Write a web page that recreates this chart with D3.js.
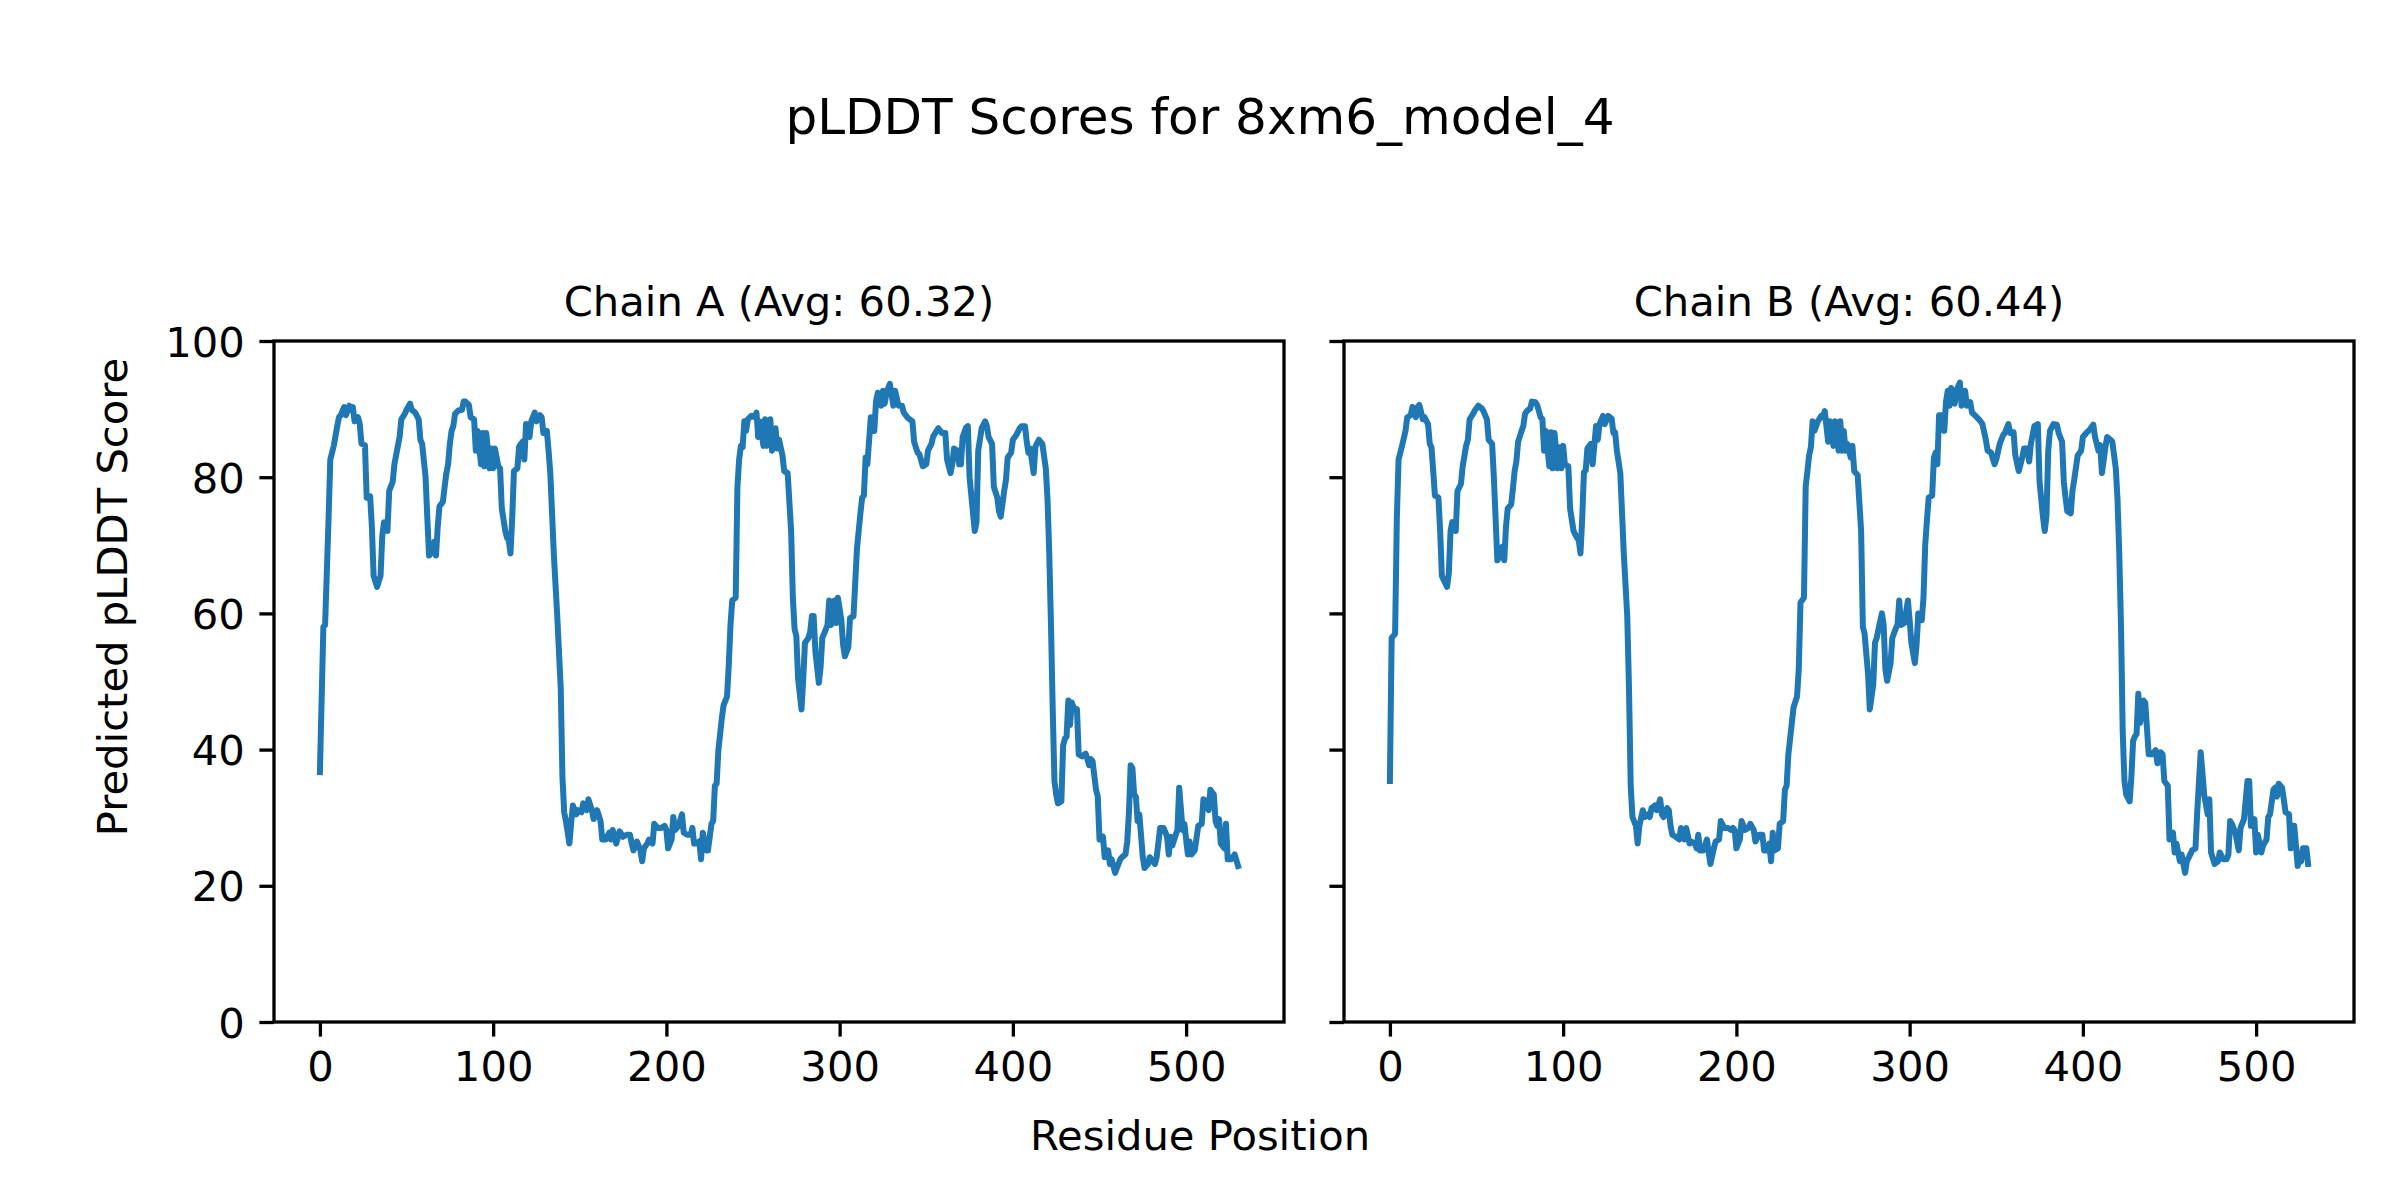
<!DOCTYPE html>
<html lang="en">
  <head>
    <meta charset="UTF-8" />
    <script src="https://d3js.org/d3.v7.min.js"></script>
    <style>
      body {
        margin: 0;
        background: #ffffff;
      }
      text {
        font-family: "DejaVu Sans", sans-serif;
        fill: #000000;
      }
    </style>
    <title>pLDDT Scores</title>
  </head>
  <body>
    <div id="chart"></div>

    <script>
      // ---- data: [residue index, pLDDT] ----
      var chainA = [
        [0,36.7],[2,58],[3,58.3],[5,74],[6,82.6],[8,84.6],[10,87.5],[11,88.8],[12,89.1],[14,90.3],
        [15,89.1],[17,90.5],[18,89.9],[19,90.3],[20,88.2],[22,88.8],[23,87.8],[24,84.9],[26,84.7],[27,77],
        [29,77.2],[30,72.7],[31,65.5],[33,63.9],[35,65.5],[36,71.4],[37,73.4],[39,72.1],[40,78],[42,79.3],
        [43,81.9],[45,84.6],[46,85.9],[47,88.5],[49,89.3],[50,89.9],[52,90.8],[53,89.9],[55,89.5],[57,88.5],
        [58,85.5],[59,84.9],[61,80],[62,74],[63,68.5],[64,68.8],[66,70.5],[67,68.5],[68,72.7],[69,75.7],
        [71,76.4],[72,78.6],[73,80.6],[74,81.9],[75,84.9],[76,86.8],[77,87.5],[78,89.3],[80,89.8],[82,89.9],
        [83,91.1],[84,91.1],[86,90.6],[87,88.8],[89,88.5],[90,83.9],[91,86.8],[93,81.9],[94,86.5],[95,81.6],
        [96,86.5],[98,81.3],[99,84.2],[100,81.3],[101,84.2],[103,81.6],[104,81.3],[105,75.4],[107,72.1],[108,71.1],
        [109,70.8],[110,68.8],[111,74],[112,80.9],[114,81.3],[115,84.5],[117,85.2],[118,82.6],[119,87.8],[121,85.9],
        [122,88.2],[124,89.5],[125,88.2],[127,89.1],[128,88.8],[129,86.5],[131,86.8],[132,83.9],[133,80.6],[135,68.8],
        [137,59.6],[139,49.1],[140,36],[141,30.8],[142,29.5],[144,26.2],[145,29.1],[146,31.8],[148,30.5],[149,31.1],
        [151,30.8],[152,32.1],[154,31.1],[155,32.7],[157,31.1],[158,29.8],[160,31.1],[162,29.5],[163,26.8],[165,26.8],
        [167,27.8],[168,26.8],[169,28.2],[171,26.2],[173,28],[175,27.2],[177,27.5],[179,27.5],[180,26.2],[181,25.2],
        [183,26.5],[185,25.2],[186,23.6],[187,25.5],[189,26.2],[190,26.8],[192,26.2],[193,29.1],[195,28.5],[197,28.5],
        [199,28.8],[200,28.2],[201,25.5],[203,26.8],[204,30.1],[205,28.2],[207,28.8],[209,30.5],[210,27.8],[212,27.5],
        [214,27.5],[215,28.5],[216,26.2],[218,26.2],[219,26.5],[220,23.9],[221,27.8],[223,25.2],[224,25.2],[226,29.1],
        [227,29.5],[228,34.7],[229,35],[230,39.9],[232,44.6],[233,46.5],[235,47.8],[236,52.4],[237,58.3],[238,61.9],
        [240,62.3],[241,78.6],[242,82.6],[243,84.6],[244,84.4],[245,88.2],[246,86.8],[247,88.5],[249,89],[251,88.8],
        [252,89.5],[253,85.9],[254,88.2],[256,84.6],[257,88.5],[258,84.6],[260,88.5],[261,83.9],[263,87.2],[264,84.2],
        [265,85.5],[267,83.2],[268,80.9],[270,80.6],[272,72.1],[273,62.3],[274,57.7],[275,56.7],[276,50.5],[278,45.9],
        [279,50.5],[280,55.7],[282,56.4],[283,57.3],[284,59.6],[285,59.6],[286,54.4],[288,49.8],[289,52.1],[290,56.4],
        [291,57],[293,58.3],[294,61.9],[295,58.3],[297,61.9],[298,58.6],[299,62.3],[301,59],[302,55.4],[303,53.7],
        [305,55],[306,59.3],[308,59.6],[309,64.5],[310,69.5],[311,72.1],[312,74.7],[313,77],[314,77.3],[315,82.9],
        [316,81.9],[318,88.8],[319,86.8],[320,86.8],[321,91.1],[322,92.4],[324,90.5],[325,92.7],[326,90.8],[327,92.4],
        [329,93.7],[331,90.5],[332,92.7],[334,90.5],[336,90.5],[337,89.5],[339,88.8],[342,88.2],[343,85.2],[345,83.6],
        [346,83.4],[348,81.6],[350,81.9],[351,83.9],[353,84.9],[354,86],[356,86.8],[357,87.2],[359,86.5],[361,86.5],
        [362,82.6],[364,80.6],[365,81.9],[366,84.2],[368,83.9],[369,81.9],[370,81.9],[371,85.9],[373,87.3],[374,87.5],
        [375,80],[377,74.7],[378,72.1],[379,73.4],[380,83.9],[382,87.2],[384,88.2],[385,87.5],[386,85.9],[388,84.9],
        [389,78.6],[391,77],[392,75],[393,74.2],[395,78],[396,79.6],[397,82.9],[399,83.6],[400,85.5],[402,86.2],
        [404,87.2],[405,87.5],[407,87.5],[408,85.2],[409,83.6],[410,84.2],[412,80.6],[413,84.5],[415,85.5],[417,84.9],
        [419,81.3],[420,76.7],[421,68.8],[422,58.3],[423,45.9],[424,35.4],[425,33.4],[426,32.1],[428,32.4],[429,40.6],
        [430,41.6],[431,41.9],[432,47.2],[433,43.6],[434,46.9],[435,46.2],[437,45.9],[438,39.3],[440,39],[442,39.4],
        [443,38.6],[444,37.7],[445,38.6],[446,38.3],[448,34.1],[449,33.1],[450,26.8],[452,27.2],[453,24.2],[455,25.2],
        [456,23.2],[457,23.9],[459,21.9],[460,22.6],[462,23.9],[463,24.2],[465,24.6],[466,26.5],[467,30.8],[468,37.7],
        [469,37.3],[470,33.4],[471,33.1],[472,29.5],[473,30.5],[475,24.2],[476,22.6],[478,23.2],[479,24.2],[480,23.9],
        [482,23.2],[483,24.2],[485,28.5],[487,28.5],[489,27.2],[490,24.6],[491,27.2],[492,25.9],[494,27.5],[495,28.2],
        [496,34.4],[498,28.2],[499,29.1],[501,24.6],[502,26.5],[503,24.6],[505,25.2],[507,28.8],[509,29.1],[510,32.7],
        [512,32.4],[513,31.1],[514,34.1],[516,33.4],[517,29.5],[518,28.8],[519,29.8],[520,26.2],[522,25.5],[523,29.1],
        [524,23.9],[526,23.9],[528,24.6],[530,22.9]
      ];

      var chainB = [
        [0,35.4],[1,56.4],[3,57],[4,74],[5,82.6],[7,84.6],[9,86.8],[10,88.8],[12,89.1],[13,90.3],
        [15,88.8],[16,90.3],[17,90.6],[19,88.5],[20,88.8],[22,87.8],[23,84.9],[24,84.4],[26,77.3],[28,77],
        [29,72.1],[30,65.5],[33,63.9],[34,65.9],[35,72.1],[36,73.4],[38,72.1],[39,78],[41,79],[42,81.6],
        [44,84.6],[45,85.5],[46,88.5],[48,89.3],[49,89.8],[51,90.5],[53,90.1],[54,89.7],[56,88.5],[57,85.5],
        [59,84.9],[60,80],[61,74],[62,67.8],[63,68.2],[65,69.8],[66,67.8],[67,72.7],[68,75.4],[70,76],
        [71,78.3],[72,80.9],[73,82.3],[74,85.2],[76,86.8],[77,87.5],[78,89.3],[79,89.7],[81,90.1],[82,91.1],
        [84,91],[85,90.6],[87,88.8],[88,88.5],[89,83.9],[90,86.8],[92,81.6],[93,86.6],[94,81.3],[95,86.5],
        [97,81.3],[98,84.4],[99,81.3],[100,84.6],[101,81.9],[103,81.6],[104,75.4],[106,72.1],[108,71.1],[109,70.8],
        [110,68.8],[111,74],[112,80.7],[113,81],[114,84.2],[116,84.9],[117,81.9],[119,87.5],[120,85.5],[121,87.8],
        [123,89],[124,87.8],[126,89],[128,88.6],[129,86.5],[130,86.6],[131,83.9],[133,80.6],[135,68.8],[137,59.6],
        [138,49.1],[139,34.7],[140,30.1],[142,28.8],[143,26.2],[144,28.8],[146,31.1],[147,30.1],[149,30.5],[150,30.1],
        [151,31.4],[153,31.8],[154,31.1],[156,32.7],[157,30.5],[158,30.1],[160,31.4],[161,31.1],[162,28.8],[163,27.5],
        [165,27.2],[167,26.8],[168,28.5],[170,26.8],[171,28.5],[173,26.2],[174,26.5],[176,26.2],[177,25.5],[178,27.5],
        [179,25.2],[181,25.2],[183,26.8],[184,24.9],[185,23.2],[187,25.5],[188,26.5],[190,26.8],[191,29.5],[193,28.5],
        [195,28.5],[197,28.2],[198,28.5],[199,28.2],[200,25.5],[202,26.8],[203,29.5],[205,28.2],[207,28.5],[208,29.1],
        [210,28.2],[211,26.5],[213,27.5],[215,27.5],[216,25.2],[218,25.2],[219,26.2],[220,23.6],[221,27.8],[222,25.2],
        [224,25.5],[225,29.1],[227,29.5],[228,34.1],[229,34.7],[230,39.3],[232,43.9],[233,46.2],[235,47.8],[236,51.8],
        [237,61.6],[239,62.3],[240,78.6],[242,83.2],[243,84.4],[244,88.2],[245,86.8],[247,88.2],[249,89],[250,88.8],
        [251,89.7],[253,85.2],[254,88.2],[256,84.6],[257,88.2],[259,83.9],[260,88.2],[261,83.9],[262,86.8],[263,83.9],
        [264,84.9],[266,82.9],[267,84.6],[268,80.9],[270,80.3],[272,72.1],[273,58],[274,57],[276,51.1],[277,45.9],
        [279,49.5],[280,55.7],[281,56.4],[282,57.7],[284,60],[285,58.3],[286,51.8],[287,50.1],[289,52.7],[290,56.4],
        [292,57.8],[293,58.3],[294,61.9],[295,58.3],[297,58.6],[299,61.9],[300,59],[301,55.7],[303,52.7],[304,55.4],
        [305,60],[307,59],[308,62.3],[309,70.1],[310,73.7],[311,77],[313,77.3],[314,82.9],[315,83.6],[316,81.9],
        [317,89.1],[319,89.1],[320,86.8],[321,91.1],[322,92.7],[323,90.5],[324,93.1],[326,90.8],[327,92.7],[329,93.9],
        [330,90.5],[332,92.7],[333,90.5],[335,91],[336,89.5],[338,89],[340,88.5],[342,87.8],[344,85.5],[345,83.9],
        [347,83.6],[349,81.9],[350,82.6],[352,84.9],[354,86.2],[355,86.5],[357,87.8],[358,86.5],[360,86.6],[361,83.2],
        [363,80.9],[365,82.9],[366,84.2],[368,84.2],[369,82.3],[370,84.9],[372,87.5],[374,87.8],[375,79.3],[377,74.1],
        [378,72.1],[379,74.4],[380,83.9],[381,86.8],[383,87.8],[385,87.7],[386,86.5],[388,85.2],[389,79.3],[390,77],
        [391,75],[393,74.7],[394,78],[395,79.6],[397,83.2],[399,83.9],[400,85.9],[402,86.5],[404,87],[406,87.7],
        [407,85.9],[409,83.9],[410,84.7],[411,80.6],[413,84.4],[414,85.9],[416,85.5],[417,85.2],[419,81.3],[420,76.7],
        [421,68.8],[422,58.3],[423,42.6],[424,35.4],[425,33.4],[427,32.4],[428,36],[429,41.3],[430,41.9],[431,42.3],
        [432,48.2],[433,43.9],[435,47.2],[436,46.9],[438,39.3],[440,39.3],[442,39.9],[443,38],[445,39.6],[446,39.3],
        [447,35.4],[449,34.7],[450,26.8],[452,27.8],[453,24.9],[454,26.2],[456,23.6],[457,24.6],[459,21.9],[460,23.6],
        [462,24.6],[463,25.2],[465,25.5],[466,30.8],[468,39.6],[469,36.7],[470,33.4],[472,30.5],[473,32.7],[474,24.9],
        [476,23.2],[478,23.6],[479,24.9],[481,23.9],[483,23.9],[484,24.6],[485,29.5],[486,29.1],[488,27.8],[490,25.2],
        [491,28.5],[493,29.8],[495,35.4],[496,35.4],[497,28.8],[499,29.8],[500,24.9],[501,27.5],[503,24.9],[504,25.9],
        [506,26.8],[507,30.1],[508,30.5],[510,34.1],[511,34.4],[512,33.1],[513,35],[515,34.4],[517,30.8],[519,30.5],
        [520,25.5],[521,28.8],[522,28.8],[524,22.9],[525,23.9],[526,23.6],[527,25.5],[529,25.5],[530,23.2]
      ];

      var chainTitles = ["Chain A (Avg: 60.32)", "Chain B (Avg: 60.44)"];
      var xTicks = [0, 100, 200, 300, 400, 500];
      var yTicks = [0, 20, 40, 60, 80, 100];

      // ---- figure layout (matplotlib 8x4 in @ 300 dpi) ----
      var W = 2400, H = 1200;
      var panelLeft = [274, 1344];
      var panelW = 1010;
      var plotTop = 341, plotBottom = 1022;
      var tickLen = 14.6, tickW = 3.3;
      var fontSize = 41.7;

      var svg = d3
        .select("#chart")
        .append("svg")
        .attr("width", W)
        .attr("height", H)
        .style("background", "#ffffff");

      var y = d3.scaleLinear().domain([0, 100]).range([plotBottom, plotTop]);

      [chainA, chainB].forEach(function (series, i) {
        var left = panelLeft[i];
        // 5% margins like matplotlib autoscale
        var x = d3.scaleLinear().domain([-26.5, 556.5]).range([left, left + panelW]);

        var line = d3
          .line()
          .x(function (d) { return x(d[0]); })
          .y(function (d) { return y(d[1]); });

        var g = svg.append("g").attr("class", "panel");

        // the pLDDT trace
        g.append("path")
          .datum(series)
          .attr("fill", "none")
          .attr("stroke", "#1f77b4")
          .attr("stroke-width", 6)
          .attr("stroke-linejoin", "round")
          .attr("stroke-linecap", "square")
          .attr("d", line);

        // x axis
        var xAxis = g
          .append("g")
          .attr("transform", "translate(0," + plotBottom + ")")
          .call(d3.axisBottom(x).tickValues(xTicks).tickSize(tickLen).tickPadding(tickLen));
        xAxis.select(".domain").remove();
        xAxis.selectAll("line").attr("stroke", "#000").attr("stroke-width", tickW);
        xAxis.selectAll("text")
          .attr("font-family", "DejaVu Sans")
          .attr("font-size", fontSize)
          .attr("fill", "#000");

        // y axis (labels only on the first panel, shared y)
        var yAxis = g
          .append("g")
          .attr("transform", "translate(" + left + ",0)")
          .call(
            d3.axisLeft(y)
              .tickValues(yTicks)
              .tickSize(tickLen)
              .tickPadding(tickLen)
              .tickFormat(i === 0 ? d3.format("d") : function () { return ""; })
          );
        yAxis.select(".domain").remove();
        yAxis.selectAll("line").attr("stroke", "#000").attr("stroke-width", tickW);
        yAxis.selectAll("text")
          .attr("font-family", "DejaVu Sans")
          .attr("font-size", fontSize)
          .attr("fill", "#000")
          .attr("dy", "0.36em");

        // frame
        g.append("rect")
          .attr("x", left)
          .attr("y", plotTop)
          .attr("width", panelW)
          .attr("height", plotBottom - plotTop)
          .attr("fill", "none")
          .attr("stroke", "#000")
          .attr("stroke-width", tickW);

        // panel title
        g.append("text")
          .attr("x", left + panelW / 2)
          .attr("y", plotTop - 25)
          .attr("text-anchor", "middle")
          .attr("font-size", fontSize)
          .text(chainTitles[i]);
      });

      // figure title and shared labels
      svg.append("text")
        .attr("x", W / 2)
        .attr("y", 134)
        .attr("text-anchor", "middle")
        .attr("font-size", 50)
        .text("pLDDT Scores for 8xm6_model_4");

      svg.append("text")
        .attr("x", W / 2)
        .attr("y", 1150)
        .attr("text-anchor", "middle")
        .attr("font-size", fontSize)
        .text("Residue Position");

      svg.append("text")
        .attr("transform", "translate(127,597) rotate(-90)")
        .attr("text-anchor", "middle")
        .attr("font-size", fontSize)
        .text("Predicted pLDDT Score");
    </script>
  </body>
</html>
